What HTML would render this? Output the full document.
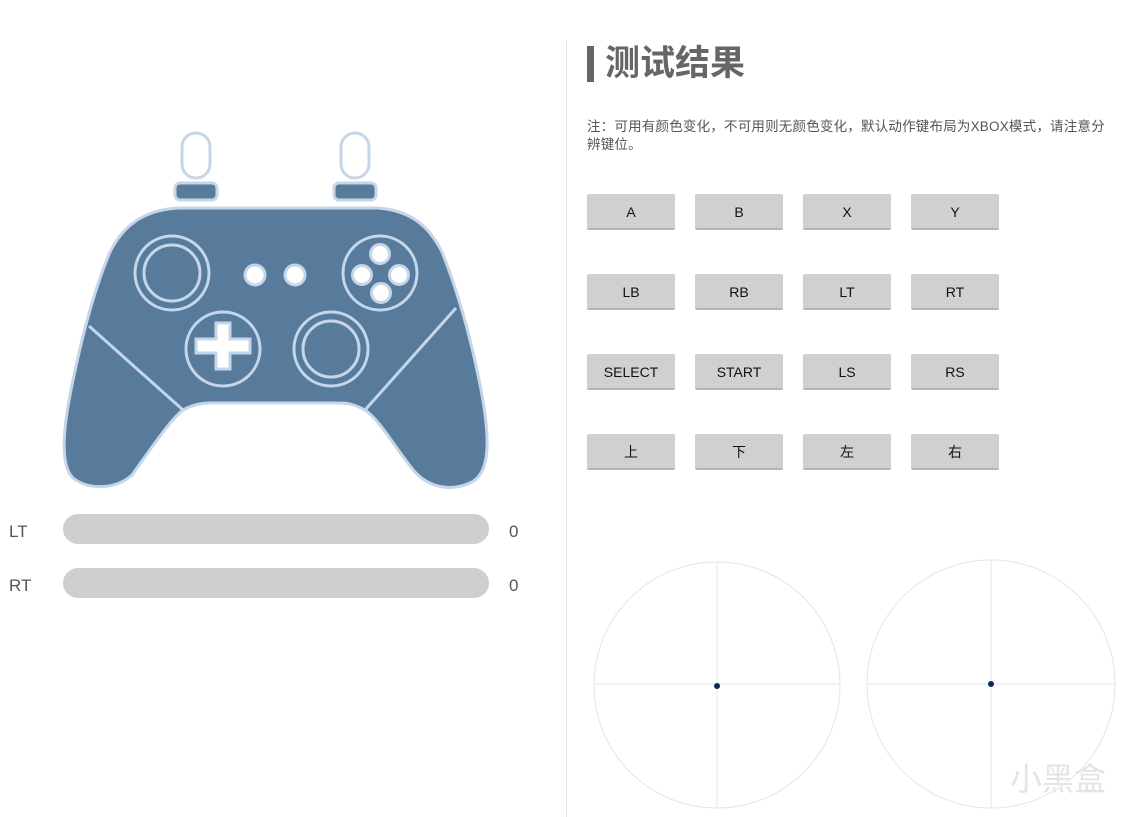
<!DOCTYPE html>
<html><head><meta charset="utf-8"><style>
body{margin:0;width:1136px;height:817px;background:#fff;position:relative;overflow:hidden;font-family:"Liberation Sans","Noto Sans CJK SC",sans-serif}
.div{position:absolute;left:566px;top:40px;width:1px;height:777px;background:#e6e6e6}
.bar{position:absolute;left:587px;top:46px;width:7px;height:36px;background:#666}
.title{position:absolute;left:605px;top:41px;font-size:35px;font-weight:bold;color:#666;line-height:46px}
.note{position:absolute;left:587px;top:118px;width:522px;font-size:13.5px;letter-spacing:0.2px;line-height:18px;color:#555}
.btn{position:absolute;width:88px;height:34px;background:#d0d0d0;border-bottom:2px solid #b4b4b4;border-radius:2px;text-align:center;line-height:36px;font-size:14px;color:#111}
.lbl{position:absolute;font-size:17px;color:#555}
.track{position:absolute;left:63px;width:426px;height:30px;border-radius:15px;background:#cfcfd1}
</style></head><body>
<svg width="566" height="817" style="position:absolute;left:0;top:0">
<g stroke="#c5d6ea" stroke-width="3">
<rect x="182" y="133" width="28" height="45" rx="14" fill="#fff"/>
<rect x="341" y="133" width="28" height="45" rx="14" fill="#fff"/>
<rect x="175" y="183" width="42" height="17" rx="5" fill="#587b9b"/>
<rect x="334" y="183" width="42" height="17" rx="5" fill="#587b9b"/>
<path fill="#587b9b" d="M178 208 L377 208 C412 210 430 228 442 252 C458 292 472 342 482 395 C490 440 490 472 472 482 C452 492 430 488 415 472 C395 448 380 420 365 410 C355 405 350 403 340 403 L210 403 C200 403 192 405 183 410 C170 420 150 450 132 475 C115 490 88 490 73 478 C60 465 63 430 71 390 C81 340 94 290 110 252 C123 226 143 210 178 208 Z"/>
<g fill="none">
<line x1="89" y1="326" x2="183" y2="410"/>
<line x1="456" y1="308" x2="365" y2="410"/>
<circle cx="172" cy="273" r="37"/><circle cx="172" cy="273" r="28"/>
<circle cx="380" cy="273" r="37"/>
<circle cx="223" cy="349" r="37"/>
<circle cx="331" cy="349" r="37"/><circle cx="331" cy="349" r="28"/>
</g>
<g fill="#fff">
<circle cx="255" cy="275" r="10"/><circle cx="295" cy="275" r="10"/>
<circle cx="380" cy="254" r="9.5"/><circle cx="362" cy="275" r="9.5"/><circle cx="399" cy="275" r="9.5"/><circle cx="381" cy="293" r="9.5"/>
</g>
<path fill="#fff" d="M216 323h14v16h20v14h-20v16h-14v-16h-20v-14h20z"/>
</g>
</svg>
<div class="lbl" style="left:9px;top:522px">LT</div>
<div class="track" style="top:514px"></div>
<div class="lbl" style="left:509px;top:522px">0</div>
<div class="lbl" style="left:9px;top:576px">RT</div>
<div class="track" style="top:568px"></div>
<div class="lbl" style="left:509px;top:576px">0</div>
<div class="div"></div>
<div class="bar"></div>
<div class="title">测试结果</div>
<div class="note">注：可用有颜色变化，不可用则无颜色变化，默认动作键布局为XBOX模式，请注意分辨键位。</div>
<div class="btn" style="left:587px;top:194px">A</div><div class="btn" style="left:695px;top:194px">B</div><div class="btn" style="left:803px;top:194px">X</div><div class="btn" style="left:911px;top:194px">Y</div>
<div class="btn" style="left:587px;top:274px">LB</div><div class="btn" style="left:695px;top:274px">RB</div><div class="btn" style="left:803px;top:274px">LT</div><div class="btn" style="left:911px;top:274px">RT</div>
<div class="btn" style="left:587px;top:354px">SELECT</div><div class="btn" style="left:695px;top:354px">START</div><div class="btn" style="left:803px;top:354px">LS</div><div class="btn" style="left:911px;top:354px">RS</div>
<div class="btn" style="left:587px;top:434px">上</div><div class="btn" style="left:695px;top:434px">下</div><div class="btn" style="left:803px;top:434px">左</div><div class="btn" style="left:911px;top:434px">右</div>
<svg width="1136" height="817" style="position:absolute;left:0;top:0">
<g fill="none" stroke="#dfe6ef" stroke-width="1">
<circle cx="717" cy="685" r="123"/><line x1="594" y1="684" x2="840" y2="684"/><line x1="717" y1="562" x2="717" y2="808"/>
<circle cx="991" cy="684" r="124"/><line x1="867" y1="684" x2="1115" y2="684"/><line x1="991" y1="560" x2="991" y2="808"/>
</g>
<circle cx="717" cy="686" r="3" fill="#0c2d57"/><circle cx="991" cy="684" r="3" fill="#0c2d57"/>
<text x="1010" y="790" font-size="32" fill="#e4e4e4" font-family="Noto Sans CJK SC, sans-serif">小黑盒</text>
</svg>
</body></html>
